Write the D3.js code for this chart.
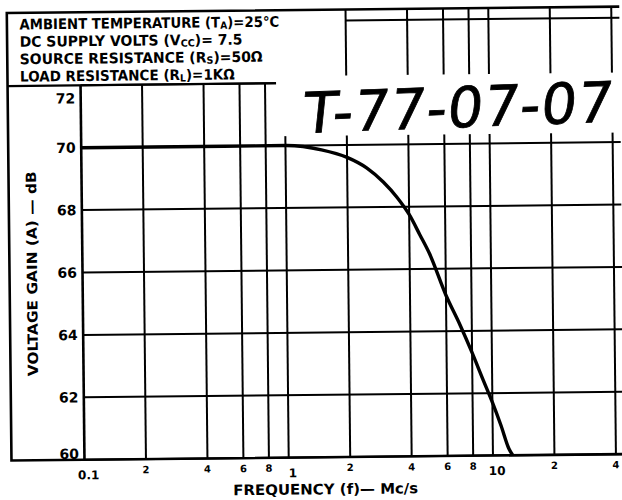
<!DOCTYPE html>
<html>
<head>
<meta charset="utf-8">
<script src="https://cdn.jsdelivr.net/npm/d3@7"></script>
<style>
  body { margin: 0; background: #fff; }
  svg { display: block; }
  text { font-family: "DejaVu Sans", sans-serif; fill: #000; }
</style>
</head>
<body>
<div id="chart"></div>
<script>
// values
const freqTicks = [0.1, 0.2, 0.4, 0.6, 0.8, 1, 2, 4, 6, 8, 10, 20, 40];
const freqTickLabels = ["0.1", "2", "4", "6", "8", "1", "2", "4", "6", "8", "10", "2", "4"];
const gainTicks = [60, 62, 64, 66, 68, 70, 72];

const curveFreq = [0.1, 0.5, 1.0, 1.5, 2, 2.5, 3, 3.5, 4, 4.5, 5, 6, 7, 8, 9, 10, 11, 12, 12.5];
const curveGain = [70, 70, 70, 69.85, 69.6, 69.25, 68.8, 68.3, 67.75, 67.1, 66.5, 65.15, 64.2, 63.3, 62.45, 61.7, 60.95, 60.2, 60];

const headerLines = [
    [["AMBIENT TEMPERATURE (T", ""], ["A", "sub"], [")=25°C", ""]],
    [["DC SUPPLY VOLTS (V", ""], ["CC", "sub"], [")= 7.5", ""]],
    [["SOURCE RESISTANCE (R", ""], ["S", "sub"], [")=50Ω", ""]],
    [["LOAD RESISTANCE (R", ""], ["L", "sub"], [")=1KΩ", ""]]
];
const headerWidths = [260, 223, 243, 215];
const docNumber = "T-77-07-07";
const xTitle = "FREQUENCY (f)— Mc/s";
const yTitle = "VOLTAGE  GAIN  (A) — dB";

const width = 622, height = 500;
const frame = { left: 9.5, top: 10, right: 622 };

const svg = d3.select("#chart").append("svg")
    .attr("width", width)
    .attr("height", height);

svg.append("rect").attr("width", width).attr("height", height).attr("fill", "#fff");

// the scan is slightly tilted
const g = svg.append("g").attr("transform", "rotate(-0.6, 300, 270)");

const x = d3.scaleLog().domain([0.1, 10]).range([82.5, 491]);
const y = d3.scaleLinear().domain([60, 72]).range([457.5, 83]);
const headerRight = x(2);

// squeeze a text horizontally to a given width (keeps tspans together)
function fitWidth(sel, x0, y0, w) {
    const box = sel.node().getBBox();
    sel.attr("transform", `translate(${x0},${y0}) scale(${w / box.width},1)`);
}

// horizontal grid
g.selectAll(".hgrid")
    .data(gainTicks)
    .join("line")
    .attr("x1", x(0.1))
    .attr("x2", frame.right)
    .attr("y1", d => y(d))
    .attr("y2", d => y(d))
    .attr("stroke", "#000")
    .attr("stroke-width", 2);

// vertical grid, lines right of the header run up to the top border
g.selectAll(".vgrid")
    .data(freqTicks)
    .join("line")
    .attr("x1", d => x(d))
    .attr("x2", d => x(d))
    .attr("y1", y(60))
    .attr("y2", d => x(d) >= headerRight - 1 ? frame.top : y(72))
    .attr("stroke", "#000")
    .attr("stroke-width", d => d === 0.1 ? 2.6 : 2);

// outer frame and header box
g.append("path")
    .attr("d", `M${frame.right},${frame.top}H${frame.left}V${y(60)}H${frame.right}`)
    .attr("fill", "none")
    .attr("stroke", "#000")
    .attr("stroke-width", 2.6);
g.append("line")
    .attr("x1", frame.left).attr("x2", headerRight)
    .attr("y1", y(72)).attr("y2", y(72))
    .attr("stroke", "#000").attr("stroke-width", 2.2);
g.append("line")
    .attr("x1", headerRight).attr("x2", frame.right)
    .attr("y1", 21).attr("y2", 21)
    .attr("stroke", "#000").attr("stroke-width", 2);

// whited-out area under the handwritten number
g.append("rect")
    .attr("x", 278).attr("y", 76)
    .attr("width", frame.right - 278 + 10).attr("height", 60)
    .attr("fill", "#fff");

// header text
headerLines.forEach((parts, i) => {
    const t = g.append("text")
        .attr("font-size", 14.5)
        .attr("font-weight", "bold");
    parts.forEach(([s, kind]) => {
        const ts = t.append("tspan").text(s);
        if (kind === "sub") ts.attr("font-size", 10).attr("dy", 1.5);
        else if (s.startsWith(")")) ts.attr("dy", -1.5);
    });
    fitWidth(t, 22, 26.5 + i * 17.4, headerWidths[i]);
});

// response curve
const curveData = curveFreq.map((f, i) => ({ f, g: curveGain[i] }));
g.append("path")
    .datum(curveData)
    .attr("fill", "none")
    .attr("stroke", "#000")
    .attr("stroke-width", 3.4)
    .attr("stroke-linejoin", "round")
    .attr("d", d3.line().x(d => x(d.f)).y(d => y(d.g)).curve(d3.curveMonotoneX));

// y tick labels
g.selectAll(".ylab")
    .data(gainTicks)
    .join("text")
    .attr("x", 77)
    .attr("y", d => y(d))
    .attr("dy", d => d === 72 ? 18 : d === 60 ? -1 : 5)
    .attr("text-anchor", "end")
    .attr("font-size", 14)
    .attr("font-weight", "bold")
    .text(d => d);

// x tick labels: decade labels are larger and sit lower
const isDecade = d => Math.abs(Math.log10(d) - Math.round(Math.log10(d))) < 1e-9;
g.selectAll(".xlab")
    .data(freqTicks)
    .join("text")
    .attr("x", d => x(d) + (isDecade(d) ? 4 : 0))
    .attr("y", d => isDecade(d) ? 477 : 471.5)
    .attr("text-anchor", "middle")
    .attr("font-size", d => isDecade(d) ? 12 : 10)
    .attr("font-weight", "bold")
    .text((d, i) => freqTickLabels[i]);

// axis titles
const xt = g.append("text")
    .attr("font-size", 14.5)
    .attr("font-weight", "bold")
    .text(xTitle);
fitWidth(xt, 231, 494.5, 185);

g.append("text")
    .attr("transform", "translate(37,271) rotate(-90)")
    .attr("text-anchor", "middle")
    .attr("font-size", 14)
    .attr("font-weight", "bold")
    .attr("textLength", 205)
    .attr("lengthAdjust", "spacingAndGlyphs")
    .text(yTitle);

// handwritten document number
g.append("text")
    .attr("transform", "translate(303,133) rotate(-1.5) skewX(-8)")
    .attr("font-size", 56)
    .attr("stroke", "#000")
    .attr("stroke-width", 0.8)
    .attr("textLength", 310)
    .attr("lengthAdjust", "spacing")
    .text(docNumber);
</script>
</body>
</html>
